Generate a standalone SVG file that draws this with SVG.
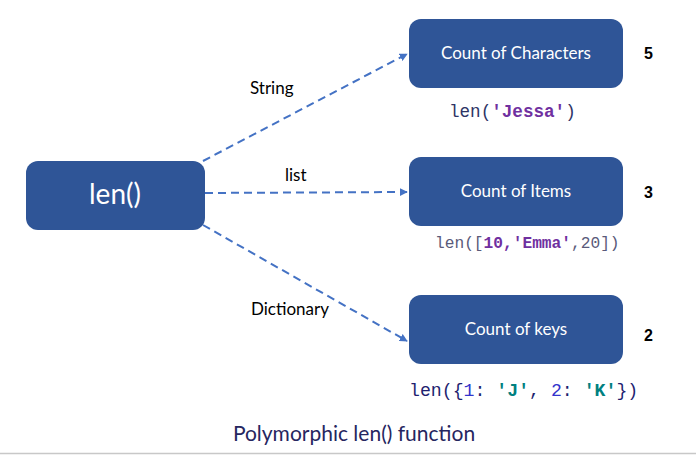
<svg xmlns="http://www.w3.org/2000/svg" width="696" height="455" viewBox="0 0 696 455">
<style>
.box{fill:#2F5597;}
.nt{font-family:Lato,"Open Sans",sans-serif;fill:#fff;text-anchor:middle;font-size:17px;}
.lbl{font-family:Lato,"Open Sans",sans-serif;fill:#000;font-size:17px;}
.num{font-family:"Liberation Sans",Arial,sans-serif;font-weight:bold;font-size:16px;fill:#000;}
.code{font-family:"Liberation Mono","Courier New",monospace;}
.edge{stroke:#4472C4;stroke-width:2;stroke-dasharray:8 5;fill:none;marker-end:url(#ah);}
.pb{fill:#7030A0;font-weight:bold;}
.tb{fill:#008080;font-weight:bold;}
</style>
<defs>
<marker id="ah" viewBox="0 0 10 10" refX="9" refY="5" markerWidth="4" markerHeight="4" orient="auto" markerUnits="strokeWidth">
<path d="M0,0 L10,5 L0,10 z" fill="#4472C4"/>
</marker>
</defs>
<rect width="696" height="455" fill="#fff"/>
<g id="connectors">
<path class="edge" d="M203,161 L407,54"/>
<path class="edge" d="M205,193 L407,192"/>
<path class="edge" d="M203,225 L407,341"/>
<text class="lbl" x="250" y="94">String</text>
<text class="lbl" x="285" y="181">list</text>
<text class="lbl" x="251" y="315">Dictionary</text>
</g>
<g id="len">
<rect class="box" x="26" y="161" width="179" height="69" rx="12"/>
<text class="nt" x="115" y="204" style="font-size:28px">len()</text>
</g>
<g id="chars">
<rect class="box" x="409" y="19" width="214" height="69" rx="12"/>
<text class="nt" x="516" y="59">Count of Characters</text>
<text class="num" x="644" y="59">5</text>
<text class="code" x="449" y="117" style="font-size:17.6px" fill="#2E3466">len(<tspan class="pb">'Jessa'</tspan>)</text>
</g>
<g id="items">
<rect class="box" x="409" y="157" width="214" height="69" rx="12"/>
<text class="nt" x="516" y="197">Count of Items</text>
<text class="num" x="644" y="198">3</text>
<text class="code" x="435" y="248" style="font-size:16.2px" fill="#5A5A7A">len([<tspan class="pb">10,'Emma'</tspan>,20])</text>
</g>
<g id="keys">
<rect class="box" x="409" y="295" width="214" height="69" rx="12"/>
<text class="nt" x="516" y="335">Count of keys</text>
<text class="num" x="644" y="341">2</text>
<text class="code" x="409" y="396" style="font-size:18.2px" fill="#1F1F70">len({<tspan fill="#3333CC">1</tspan>: <tspan class="tb">'J'</tspan>, <tspan fill="#3333CC">2</tspan>: <tspan class="tb">'K'</tspan>})</text>
</g>
<text x="354" y="441" text-anchor="middle" font-family="Lato,'Open Sans',sans-serif" font-size="21" fill="#262660">Polymorphic len() function</text>
<line x1="0" y1="453.5" x2="696" y2="453.5" stroke="#C8C8C8" stroke-width="1.5"/>
</svg>
